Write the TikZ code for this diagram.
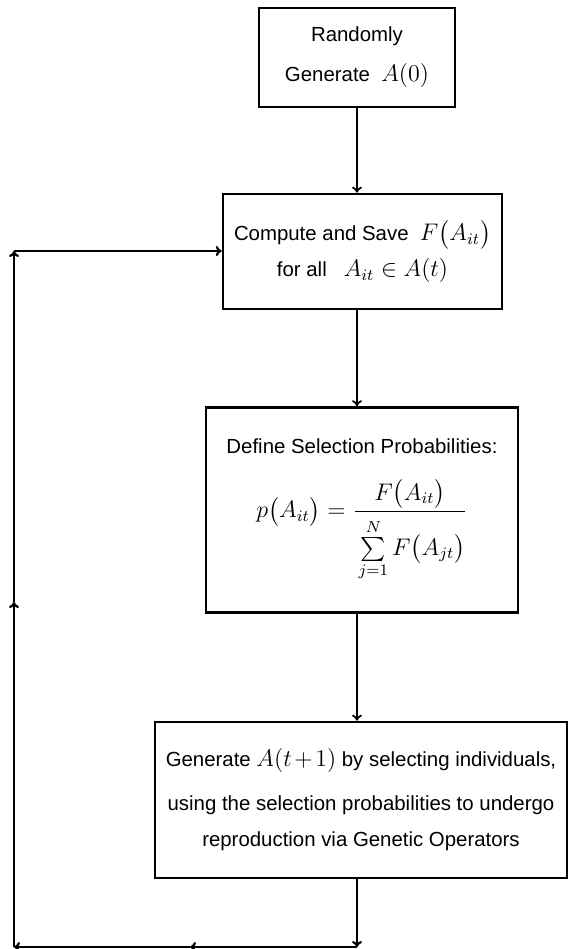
\documentclass[tikz,border=0pt]{standalone}
\usepackage{amsmath}
\usepackage{amssymb}
\usepackage[no-math]{fontspec}
\setmainfont{Liberation Sans}
\usetikzlibrary{
    positioning, % Para posicionar nós de forma relativa
    arrows.meta  % Para estilos de setas modernos
}
% Fórmulas um pouco maiores que o texto
\newcommand{\mth}[1]{{\fontsize{12}{13}\selectfont$#1$}}

\begin{document}
\begin{tikzpicture}[x=0.5pt, y=-0.5pt]

    % --- Definição de Estilos ---
    \tikzset{
        % Estilo para as caixas das etapas
        step_box/.style={
            draw,
            line width=1.3pt,
            align=center,
            inner sep=0pt,
            font=\fontsize{10.2}{12}\selectfont
        },
        % Estilo para as setas do fluxo principal
        flow_arrow/.style={
            -{To[length=3pt, width=5pt]},
            line width=0.9pt
        },
        % Estilo para as setas do laço de volta
        loop_arrow/.style={
            -{To[length=3pt, width=5pt]},
            line width=1.1pt
        }
    }

    % Área total da figura
    \useasboundingbox (0,0) rectangle (574,949);

    % --- Criação dos Nós (as etapas do algoritmo) ---

    % Geração inicial
    \node[step_box, minimum width=98pt, minimum height=49.5pt] (init_box) at (357,57.5)
        {Randomly\\[8pt] Generate\ \ \mth{A(0)}};

    % Avaliação da aptidão
    \node[step_box, minimum width=139.5pt, minimum height=57.5pt] (eval_box) at (362.5,251.5)
        {Compute and Save\ \ \mth{F\bigl(A_{it}\bigr)}\\[4pt] for all\ \ \ \mth{A_{it} \in A(t)}};

    % Probabilidades de seleção
    \node[step_box, minimum width=156pt, minimum height=102.5pt] (prob_box) at (362,510)
        {Define Selection Probabilities:\\[12pt]
         \mth{\displaystyle p\bigl(A_{it}\bigr)=\frac{F\bigl(A_{it}\bigr)}{\rule{0pt}{20pt}\sum\limits_{j=1}^{N}F\bigl(A_{jt}\bigr)}}};

    % Nova geração
    \node[step_box, minimum width=206pt, minimum height=78pt] (gen_box) at (361,800)
        {Generate \mth{A(t\mskip2mu{+}\mskip2mu1)} by selecting individuals,\\[10pt]
         using the selection probabilities to undergo\\[6pt]
         reproduction via Genetic Operators};

    % Pontos do laço de volta
    \coordinate (spine) at (357,0);
    \coordinate (loop_br) at (357,947);
    \coordinate (loop_bm) at (190,947);
    \coordinate (loop_bl) at (14,947);
    \coordinate (loop_lm) at (14,602);
    \coordinate (loop_tl) at (14,251);

    % --- Desenhando as Setas ---
    \draw[flow_arrow] (init_box.south) -- (spine |- eval_box.north);
    \draw[flow_arrow] (spine |- eval_box.south) -- (spine |- prob_box.north);
    \draw[flow_arrow] (spine |- prob_box.south) -- (spine |- gen_box.north);

    % Laço de volta para a avaliação
    \draw[loop_arrow] (spine |- gen_box.south) -- (loop_br);
    \draw[loop_arrow] (loop_br) -- (loop_bm);
    \draw[loop_arrow] (loop_bm) -- (loop_bl);
    \draw[loop_arrow] (loop_bl) -- (loop_lm);
    \draw[loop_arrow] (loop_lm) -- (loop_tl);
    \draw[loop_arrow] (loop_tl) -- (loop_tl -| eval_box.west);

\end{tikzpicture}
\end{document}
